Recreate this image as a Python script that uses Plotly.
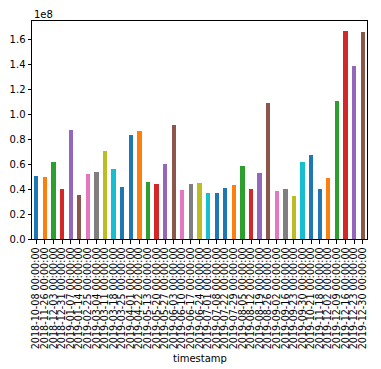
import plotly.graph_objects as go

dates = [
    "2018-10-08", "2018-11-26", "2018-12-03", "2018-12-31", "2019-01-07",
    "2019-01-14", "2019-02-25", "2019-03-04", "2019-03-11", "2019-03-18",
    "2019-03-25", "2019-04-01", "2019-04-22", "2019-05-13", "2019-05-20",
    "2019-05-27", "2019-06-03", "2019-06-10", "2019-06-17", "2019-06-24",
    "2019-07-01", "2019-07-08", "2019-07-22", "2019-07-29", "2019-08-05",
    "2019-08-12", "2019-08-19", "2019-08-26", "2019-09-02", "2019-09-16",
    "2019-09-23", "2019-09-30", "2019-10-21", "2019-11-18", "2019-12-02",
    "2019-12-09", "2019-12-16", "2019-12-23", "2019-12-30",
]
labels = [d + " 00:00:00" for d in dates]

values_e8 = [
    0.504, 0.496, 0.616, 0.400, 0.872, 0.352, 0.520, 0.536, 0.704, 0.560,
    0.416, 0.832, 0.864, 0.456, 0.440, 0.600, 0.912, 0.392, 0.440, 0.448,
    0.368, 0.368, 0.408, 0.432, 0.584, 0.400, 0.528, 1.088, 0.384, 0.400,
    0.344, 0.616, 0.672, 0.400, 0.488, 1.104, 1.664, 1.384, 1.656,
]
values = [v * 1e8 for v in values_e8]

palette = ["#1f77b4", "#ff7f0e", "#2ca02c", "#d62728", "#9467bd", "#8c564b",
           "#e377c2", "#7f7f7f", "#bcbd22", "#17becf", "#1f77b4"]
colors = [palette[i % len(palette)] for i in range(len(values))]

ytick_vals = [0, 0.2e8, 0.4e8, 0.6e8, 0.8e8, 1.0e8, 1.2e8, 1.4e8, 1.6e8]
ytick_text = ["0.0", "0.2", "0.4", "0.6", "0.8", "1.0", "1.2", "1.4", "1.6"]

fig = go.Figure(go.Bar(x=labels, y=values, marker=dict(color=colors, line=dict(width=0)), width=0.5))

fig.update_layout(
    width=373, height=361,
    margin=dict(l=24, r=14, t=13, b=130, autoexpand=False),
    paper_bgcolor="white", plot_bgcolor="white",
    font=dict(family="DejaVu Sans", size=10, color="black"),
    showlegend=False,
    bargap=0,
    xaxis=dict(
        type="category", tickangle=-90, showgrid=False, automargin=False,
        showline=True, linecolor="black", linewidth=1, mirror=True,
        ticks="outside", ticklen=3.5, tickwidth=1, tickcolor="black",
        tickmode="array", tickvals=labels, ticktext=labels,
        range=[-0.5, len(labels) - 0.5],
        tickfont=dict(size=9.6),
    ),
    yaxis=dict(
        range=[0, 1.744e8], showgrid=False, zeroline=False, automargin=False,
        showline=True, linecolor="black", linewidth=1, mirror=True,
        ticks="outside", ticklen=3.5, tickwidth=1, tickcolor="black",
        tickvals=ytick_vals, ticktext=ytick_text,
        tickfont=dict(size=10),
    ),
    annotations=[
        dict(text="1e8", xref="paper", yref="paper", x=0, y=1, xanchor="left",
             yanchor="bottom", yshift=-1, showarrow=False, font=dict(size=10)),
        dict(text="timestamp", xref="paper", yref="paper", x=0.5, y=0,
             xanchor="center", yanchor="middle", yshift=-119, showarrow=False,
             font=dict(size=10)),
    ],
)

fig.write_html("out.html")
